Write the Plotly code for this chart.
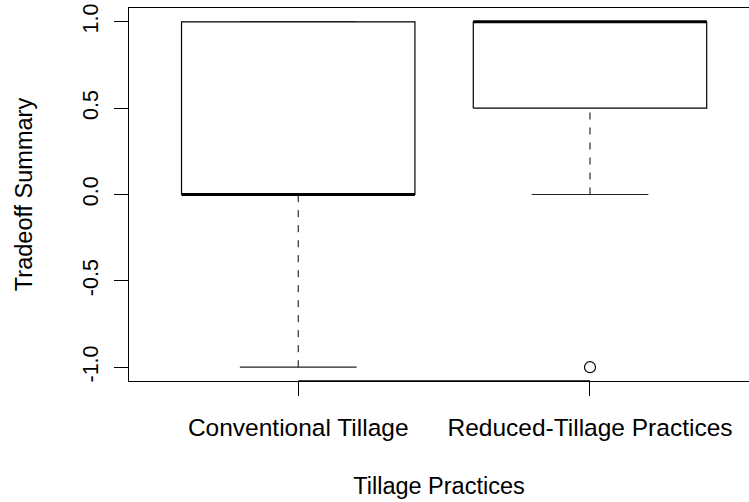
import plotly.graph_objects as go

# Five-number summaries of the tradeoff scores per tillage practice
categories = ["Conventional Tillage", "Reduced-Tillage Practices"]
lower_whisker = [-1.0, 0.0]
q1 = [0.0, 0.5]
median = [0.0, 1.0]
q3 = [1.0, 1.0]
upper_whisker = [1.0, 1.0]
outliers = [[], [-1.0]]

y_ticks = [-1.0, -0.5, 0.0, 0.5, 1.0]
y_tick_text = ["-1.0", "-0.5", "0.0", "0.5", "1.0"]

box_width = 0.8
cap_width = 0.4
FONT = "Liberation Sans, Arial, Helvetica, sans-serif"

fig = go.Figure()

for i, name in enumerate(categories):
    pos = i + 1
    left, right = pos - box_width / 2, pos + box_width / 2
    cl, cr = pos - cap_width / 2, pos + cap_width / 2

    # dashed whiskers
    for a, b in ((lower_whisker[i], q1[i]), (q3[i], upper_whisker[i])):
        fig.add_trace(go.Scatter(
            x=[pos, pos], y=[a, b], mode="lines",
            line=dict(color="black", width=1, dash="7px,8px"),
            hoverinfo="skip", showlegend=False))
    # whisker caps
    for v in (lower_whisker[i], upper_whisker[i]):
        fig.add_trace(go.Scatter(
            x=[cl, cr], y=[v, v], mode="lines",
            line=dict(color="#222", width=1.2),
            hoverinfo="skip", showlegend=False))
    # box
    fig.add_trace(go.Scatter(
        x=[left, right, right, left, left],
        y=[q1[i], q1[i], q3[i], q3[i], q1[i]],
        mode="lines", fill="toself", fillcolor="white",
        line=dict(color="black", width=1.2),
        name=name, showlegend=False))
    # median
    fig.add_trace(go.Scatter(
        x=[left, right], y=[median[i], median[i]], mode="lines",
        line=dict(color="black", width=3),
        hoverinfo="skip", showlegend=False))
    # outliers
    if outliers[i]:
        fig.add_trace(go.Scatter(
            x=[pos] * len(outliers[i]), y=outliers[i], mode="markers",
            marker=dict(symbol="circle-open", size=11, color="black",
                        line=dict(width=1.2)),
            showlegend=False))

# axis line between the outer ticks
fig.add_trace(go.Scatter(
    x=[1, 2], y=[-1.08, -1.08], mode="lines",
    line=dict(color="black", width=1.5), hoverinfo="skip",
    showlegend=False, cliponaxis=False))

fig.update_layout(
    width=749, height=502,
    margin=dict(l=129, r=0, t=8, b=121),
    paper_bgcolor="white", plot_bgcolor="white",
    font=dict(family=FONT, size=23, color="black"),
    showlegend=False,
)

fig.update_xaxes(
    range=[0.42, 2.545], tickvals=[1, 2], ticktext=categories,
    showgrid=False, zeroline=False,
    showline=True, mirror=True, linecolor="black", linewidth=1.2,
    ticks="outside", ticklen=14, tickcolor="black", tickwidth=1.2,
    tickfont=dict(size=24.5), ticklabelstandoff=10,
    title=dict(text="Tillage Practices", font=dict(size=23.5), standoff=38),
)
fig.update_yaxes(
    range=[-1.08, 1.08], tickvals=y_ticks, ticktext=y_tick_text,
    tickangle=-90, showgrid=False, zeroline=False,
    showline=True, mirror=False, linecolor="black", linewidth=1.2,
    ticks="outside", ticklen=14, tickcolor="black", tickwidth=1.2,
    tickfont=dict(size=21.5), ticklabelstandoff=7,
    title=dict(text="Tradeoff Summary", font=dict(size=23.5), standoff=40),
)

fig.write_html("out.html")
